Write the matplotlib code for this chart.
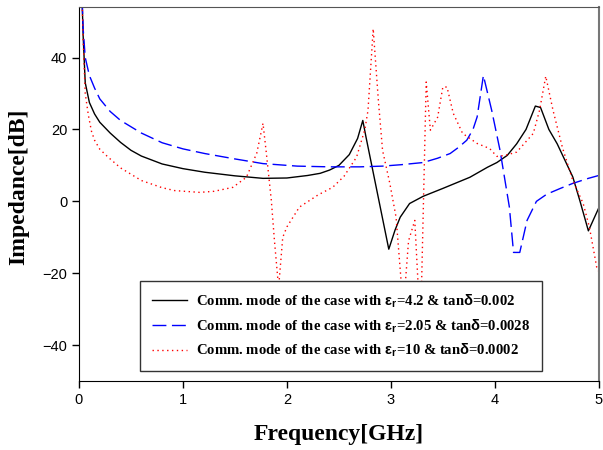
import matplotlib
matplotlib.use("Agg")
import matplotlib.pyplot as plt

# 读图得到的数据 (GHz, dB)
freq_fr4 = [0.03, 0.04, 0.06, 0.1, 0.15, 0.2, 0.25, 0.3, 0.4, 0.5, 0.6, 0.8, 1.0, 1.21, 1.5, 1.77,
            2.0, 2.2, 2.32, 2.41, 2.5, 2.6, 2.68, 2.73, 2.76, 2.98, 3.04, 3.09, 3.18, 3.31,
            3.5, 3.76, 3.93, 4.02, 4.12, 4.21, 4.3, 4.39, 4.44, 4.52, 4.6, 4.75, 4.82, 4.9, 5.0]
imp_fr4 = [56, 46, 33, 27.5, 24.3, 22, 20.5, 19, 16.4, 14.2, 12.6, 10.4, 9.1, 8.1, 7.1, 6.4,
           6.5, 7.2, 7.8, 8.7, 10, 13, 17.5, 22.5, 18, -13.3, -8, -4.4, -0.6, 1.4,
           3.6, 6.7, 9.5, 10.8, 12.8, 16, 20, 26.5, 26.1, 20, 16, 6.8, 0, -8.2, -1.8]

freq_teflon = [0.03, 0.04, 0.06, 0.1, 0.15, 0.2, 0.3, 0.4, 0.6, 0.8, 1.0, 1.21, 1.5, 1.77,
               2.1, 2.41, 2.7, 2.92, 3.1, 3.31, 3.45, 3.57, 3.65, 3.73, 3.79, 3.83, 3.89,
               3.97, 4.05, 4.14, 4.18, 4.24, 4.31, 4.4, 4.5, 4.63, 4.75, 4.9, 5.0]
imp_teflon = [56, 48, 40, 35, 31.5, 28.5, 25, 22.5, 19, 16.3, 14.6, 13.3, 11.8, 10.5,
              9.8, 9.6, 9.6, 9.8, 10.2, 10.8, 12, 13.3, 15, 17, 20, 23.5, 35,
              25.3, 14.2, -1.6, -14.2, -14.2, -5.3, 0, 2, 3.6, 5, 6.4, 7.2]

freq_ceramic = [0.03, 0.04, 0.06, 0.09, 0.12, 0.15, 0.2, 0.28, 0.4, 0.6, 0.8, 0.92, 1.16, 1.3, 1.48,
                1.61, 1.71, 1.77, 1.8, 1.85, 1.88, 1.92, 1.96, 2.0, 2.12, 2.3, 2.44, 2.55,
                2.67, 2.75, 2.78, 2.83, 2.88, 2.92, 2.99, 3.05, 3.12, 3.17, 3.23, 3.26, 3.29,
                3.34, 3.38, 3.45, 3.5, 3.54, 3.6, 3.69, 3.83, 3.95, 4.02, 4.1, 4.21, 4.37,
                4.43, 4.49, 4.56, 4.65, 4.75, 4.85, 4.91, 4.98, 5.0]
imp_ceramic = [56, 45, 30, 24, 19.5, 17, 14.5, 12.3, 9.3, 5.8, 3.8, 3.0, 2.5, 2.8, 3.9,
               6.7, 13.4, 21.7, 14, 0.3, -10.9, -24, -10, -7.1, -1.6, 1.8, 3.9, 7,
               12.3, 20, 25.3, 48, 28, 14.2, 5, -4.4, -30, -11, -5.3, -22, -30,
               33.2, 19.8, 23.4, 31.8, 31.8, 24.5, 18.9, 16.1, 14.7, 12.5, 12.8, 13.7, 18.9,
               25.3, 34.8, 25.3, 15, 5.8, -0.6, -7.2, -18.3, -19.5]

labels = [
    r"Comm. mode of the case with $\varepsilon_r$=4.2 & tan$\delta$=0.002",
    r"Comm. mode of the case with $\varepsilon_r$=2.05 & tan$\delta$=0.0028",
    r"Comm. mode of the case with $\varepsilon_r$=10 & tan$\delta$=0.0002",
]

plt.rcParams["mathtext.fontset"] = "custom"
plt.rcParams["mathtext.rm"] = "Liberation Sans:bold"
plt.rcParams["mathtext.it"] = "Liberation Sans:bold"
plt.rcParams["mathtext.bf"] = "Liberation Sans:bold"
plt.rcParams["font.family"] = "Liberation Sans"

fig = plt.figure(figsize=(6.03, 4.5), dpi=100)
ax = fig.add_axes([0.131, 0.153, 0.862, 0.831])

ax.plot(freq_fr4, imp_fr4, color="black", lw=1.0, label=labels[0])
ax.plot(freq_teflon, imp_teflon, color="#0000ff", lw=1.0, dashes=(10, 4), label=labels[1])
ax.plot(freq_ceramic, imp_ceramic, color="#ff0000", lw=1.0, dashes=(1, 2.5), label=labels[2])

ax.set_xlim(0, 5)
ax.set_ylim(-50, 54)
ax.set_xticks([0, 1, 2, 3, 4, 5])
ax.set_yticks([-40, -20, 0, 20, 40])
ax.tick_params(direction="out", length=5, width=1, labelsize=10.5, top=False, right=False)

ax.spines["top"].set_color("#555555")
ax.spines["right"].set_color("#777777")
ax.spines["right"].set_linewidth(1.5)

ax.set_xlabel("Frequency[GHz]", family="Liberation Serif", fontweight="bold", fontsize=17, labelpad=12)
ax.set_ylabel("Impedance[dB]", family="Liberation Serif", fontweight="bold", fontsize=17)
ax.yaxis.set_label_coords(-0.095, 0.52)

leg = ax.legend(loc="lower left", bbox_to_anchor=(0.117, 0.027), fancybox=False, framealpha=1,
                edgecolor="#333333", handlelength=2.4, borderpad=0.8, labelspacing=0.5,
                handletextpad=0.6, borderaxespad=0,
                prop={"family": "Liberation Serif", "weight": "bold", "size": 10.6})
leg.get_frame().set_linewidth(1.0)
leg.set_zorder(5)

fig.savefig("out.png", dpi=100)
